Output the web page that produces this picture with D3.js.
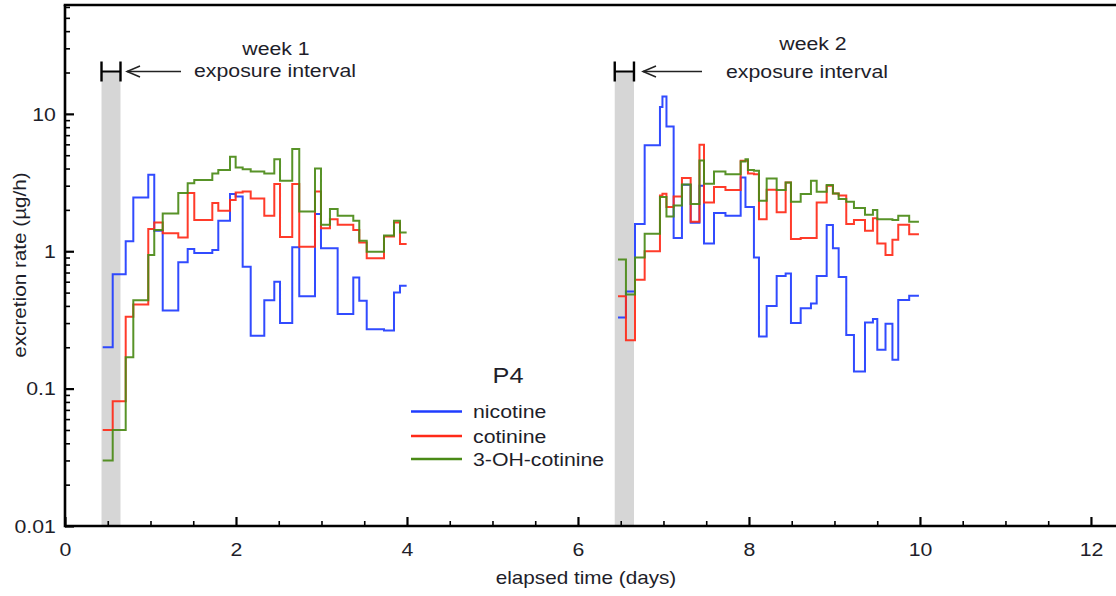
<!DOCTYPE html>
<html>
<head>
<meta charset="utf-8">
<script src="https://cdn.jsdelivr.net/npm/d3@7"></script>
<style>
  html, body { margin: 0; padding: 0; background: #fff; }
  svg text { font-family: "Liberation Sans", Arial, Helvetica, sans-serif; fill: #1e1e2a; }
</style>
</head>
<body>
<svg id="chart" width="1116" height="596"></svg>
<script>
// ---------------- DATA ----------------
// Week 1 step boundaries (days) and values per interval (µg/h)
const week1Times = [0.441,0.558,0.710,0.799,0.974,1.044,1.143,1.325,1.435,1.512,1.723,1.793,1.930,1.996,2.078,2.172,2.331,2.448,2.515,2.658,2.740,2.924,2.994,3.099,3.189,3.372,3.442,3.529,3.731,3.848,3.918,3.996];
const week1Nicotine = [0.20,0.68,1.18,2.46,3.6,1.41,0.37,0.83,1.04,0.97,1.02,1.67,2.61,2.5,0.77,0.243,0.44,0.60,0.30,1.07,0.47,1.87,1.05,1.05,0.35,0.645,0.436,0.27,0.265,0.50,0.56];
const week1Cotinine = [0.050,0.081,0.334,0.41,1.45,1.62,1.35,1.26,2.65,1.69,2.24,1.97,2.36,2.68,2.72,2.42,1.81,3.08,1.27,3.08,1.08,2.72,1.47,1.71,1.56,1.43,1.16,0.89,1.28,1.62,1.13];
const week1OHCotinine = [0.030,0.050,0.169,0.44,0.94,1.43,1.88,2.65,3.13,3.30,3.68,3.90,4.87,4.07,3.96,3.80,3.68,4.68,3.26,5.56,1.95,4.0,1.56,2.03,1.81,1.67,1.19,0.99,1.30,1.67,1.37];

// Week 2 step boundaries (days) and values per interval (µg/h)
const week2Times = [6.468,6.561,6.667,6.780,6.959,6.988,7.035,7.119,7.216,7.318,7.421,7.474,7.591,7.725,7.903,7.959,7.988,8.058,8.117,8.207,8.324,8.429,8.491,8.605,8.725,8.792,8.909,8.982,9.049,9.138,9.228,9.357,9.450,9.501,9.597,9.678,9.746,9.874,9.988];
const week2Nicotine = [0.33,0.51,1.58,5.9,11.2,13.4,8.1,1.25,3.05,1.61,3.0,1.14,1.9,1.81,3.44,2.1,2.1,0.9,0.24,0.40,0.66,0.69,0.30,0.384,0.417,0.66,1.55,1.05,0.65,0.246,0.133,0.303,0.321,0.192,0.296,0.162,0.442,0.475];
const week2Cotinine = [0.47,0.225,0.62,1.0,2.55,2.62,2.1,2.5,3.41,1.64,5.95,2.26,2.94,2.79,4.55,4.55,3.68,3.64,1.71,2.8,1.92,3.16,1.23,1.25,1.25,2.26,3.0,2.63,2.55,1.58,1.69,1.41,1.74,1.14,0.94,1.21,1.56,1.33];
const week2OHCotinine = [0.87,0.485,0.90,1.34,2.48,2.48,1.79,2.15,3.06,2.21,4.57,3.1,3.8,3.64,4.5,4.68,3.9,3.85,2.33,3.39,2.79,3.16,2.29,2.61,3.26,2.71,3.03,2.63,2.4,2.29,2.06,1.84,2.0,1.71,1.71,1.69,1.81,1.64];

const seriesNames = ["nicotine", "cotinine", "3-OH-cotinine"];
const seriesColors = ["#1f3cff", "#ff2a18", "#4a8a16"];

const exposureIntervals = [[0.427, 0.649], [6.43, 6.655]];
const xMajorTicks = [0, 2, 4, 6, 8, 10, 12];
const yMajorTicks = [0.01, 0.1, 1, 10];
const yTickLabels = ["0.01", "0.1", "1", "10"];
const xLabel = "elapsed time (days)";
const yLabel = "excretion rate (µg/h)";
const panelTitle = "P4";
const annotations = [
  { line1: "week 1", line2: "exposure interval" },
  { line1: "week 2", line2: "exposure interval" }
];

// ---------------- LAYOUT ----------------
const svg = d3.select("#chart");
const X0 = 65, X1 = 1116.6, Y0 = 526, Y1 = 5;
const x = d3.scaleLinear().domain([0, 12.3]).range([X0, X1]);
const y = d3.scaleLog().domain([0.01, 62]).range([Y0, Y1]);
const SX = 1.15; // glyph width factor

function addText(parent, px, py, str, opts = {}) {
  const g = parent.append("g").attr("transform", `translate(${px},${py})${opts.rotate ? ` rotate(${opts.rotate})` : ""}`);
  g.append("text")
    .attr("transform", `scale(${SX},1)`)
    .attr("text-anchor", opts.anchor || "start")
    .attr("font-size", opts.size || 18.5)
    .text(str);
  return g;
}

// gray exposure bands
svg.append("g").selectAll("rect").data(exposureIntervals).join("rect")
  .attr("x", d => x(d[0])).attr("width", d => x(d[1]) - x(d[0]))
  .attr("y", 72).attr("height", Y0 - 72)
  .attr("fill", "#d6d6d6");

// step lines
function stepPoints(times, vals) {
  const pts = vals.map((v, i) => [times[i], v]);
  pts.push([times[times.length - 1], vals[vals.length - 1]]);
  return pts;
}
const line = d3.line().x(d => x(d[0])).y(d => y(d[1])).curve(d3.curveStepAfter);
const allSeries = [
  [week1Nicotine, week2Nicotine],
  [week1Cotinine, week2Cotinine],
  [week1OHCotinine, week2OHCotinine]
];
const lineG = svg.append("g");
allSeries.forEach((s, k) => {
  [[week1Times, s[0]], [week2Times, s[1]]].forEach(([t, v]) => {
    lineG.append("path")
      .attr("d", line(stepPoints(t, v)))
      .attr("fill", "none")
      .attr("stroke", seriesColors[k])
      .attr("stroke-width", 2)
      .attr("stroke-linejoin", "miter")
      .attr("opacity", 0.92);
  });
});

// ---------------- AXES ----------------
const xMinor = d3.range(0, 12.31, 0.5).filter(v => Math.abs(v / 2 - Math.round(v / 2)) > 1e-6);
const yMinor = [];
[0.01, 0.1, 1, 10].forEach(b => { for (let m = 2; m <= 9; m++) { const v = b * m; if (v <= 62) yMinor.push(v); } });

const xAxisMinor = svg.append("g").attr("transform", `translate(0,${Y0})`)
  .call(d3.axisBottom(x).tickValues(xMinor).tickSize(-5).tickSizeOuter(0).tickFormat(""));
const xAxis = svg.append("g").attr("transform", `translate(0,${Y0})`)
  .call(d3.axisBottom(x).tickValues(xMajorTicks).tickSize(-9).tickSizeOuter(0).tickPadding(17).tickFormat(d3.format("d")));
const yAxisMinor = svg.append("g").attr("transform", `translate(${X0},0)`)
  .call(d3.axisLeft(y).tickValues(yMinor).tickSize(-5).tickSizeOuter(0).tickFormat(""));
const yAxis = svg.append("g").attr("transform", `translate(${X0},0)`)
  .call(d3.axisLeft(y).tickValues(yMajorTicks).tickSize(-9).tickSizeOuter(0).tickPadding(8)
    .tickFormat((d, i) => yTickLabels[i]));

[xAxisMinor, xAxis, yAxisMinor, yAxis].forEach(a => {
  a.select(".domain").remove();
  a.selectAll(".tick line").attr("stroke", "#000").attr("stroke-width", 1.6);
});
[xAxis, yAxis].forEach(a => a.selectAll(".tick line").attr("stroke-width", 2.2));
[xAxis, yAxis].forEach(a => a.selectAll(".tick text")
  .attr("font-size", 18.5).attr("fill", "#1e1e2a")
  .attr("font-family", '"Liberation Sans", Arial, sans-serif')
  .attr("transform", `scale(${SX},1)`));
yAxis.selectAll(".tick text").attr("x", -8).attr("dy", "0.34em");

// frame lines
svg.append("line").attr("x1", X0).attr("x2", 1116).attr("y1", Y0).attr("y2", Y0).attr("stroke", "#000").attr("stroke-width", 2.6);
svg.append("line").attr("x1", X0).attr("x2", X0).attr("y1", Y0 + 1.3).attr("y2", Y1).attr("stroke", "#000").attr("stroke-width", 2.6);
svg.append("line").attr("x1", X0 - 1.3).attr("x2", 1116).attr("y1", Y1).attr("y2", Y1).attr("stroke", "#000").attr("stroke-width", 2.6);

// axis titles
addText(svg, (X0 + x(12)) / 2 + 8, 584, xLabel, { anchor: "middle", size: 18 });
addText(svg, 26, 265, yLabel, { anchor: "middle", size: 18, rotate: -90 });

// ---------------- ANNOTATIONS ----------------
const ann = svg.append("g");
const annPos = [
  { t1x: 276, t1y: 55, t2x: 275, t2y: 77, arrowFrom: 181, arrowTo: 127 },
  { t1x: 813, t1y: 50, t2x: 807, t2y: 78, arrowFrom: 702, arrowTo: 643 }
];
exposureIntervals.forEach((iv, i) => {
  const xa = x(iv[0]), xb = x(iv[1]), yc = 71.5;
  ann.append("line").attr("x1", xa).attr("x2", xa).attr("y1", 61.5).attr("y2", 81.5).attr("stroke", "#000").attr("stroke-width", 2.4);
  ann.append("line").attr("x1", xb).attr("x2", xb).attr("y1", 61.5).attr("y2", 81.5).attr("stroke", "#000").attr("stroke-width", 2.4);
  ann.append("line").attr("x1", xa).attr("x2", xb).attr("y1", yc).attr("y2", yc).attr("stroke", "#000").attr("stroke-width", 2);
  const p = annPos[i];
  ann.append("line").attr("x1", p.arrowFrom).attr("x2", p.arrowTo).attr("y1", yc).attr("y2", yc).attr("stroke", "#222").attr("stroke-width", 1.5);
  ann.append("path")
    .attr("d", `M${p.arrowTo + 13},${yc - 5.5} L${p.arrowTo},${yc} L${p.arrowTo + 13},${yc + 5.5}`)
    .attr("fill", "none").attr("stroke", "#222").attr("stroke-width", 1.5);
  addText(ann, p.t1x, p.t1y, annotations[i].line1, { anchor: "middle", size: 18.5 });
  addText(ann, p.t2x, p.t2y, annotations[i].line2, { anchor: "middle", size: 18.5 });
});

// ---------------- LEGEND ----------------
const leg = svg.append("g");
addText(leg, 508, 383, panelTitle, { anchor: "middle", size: 22 });
const legY = [411.5, 436, 459];
seriesNames.forEach((n, i) => {
  leg.append("line").attr("x1", 411).attr("x2", 462).attr("y1", legY[i]).attr("y2", legY[i])
    .attr("stroke", seriesColors[i]).attr("stroke-width", 2.4);
  addText(leg, 473, legY[i] + 6.5, n, { size: 18.5 });
});
</script>
</body>
</html>
